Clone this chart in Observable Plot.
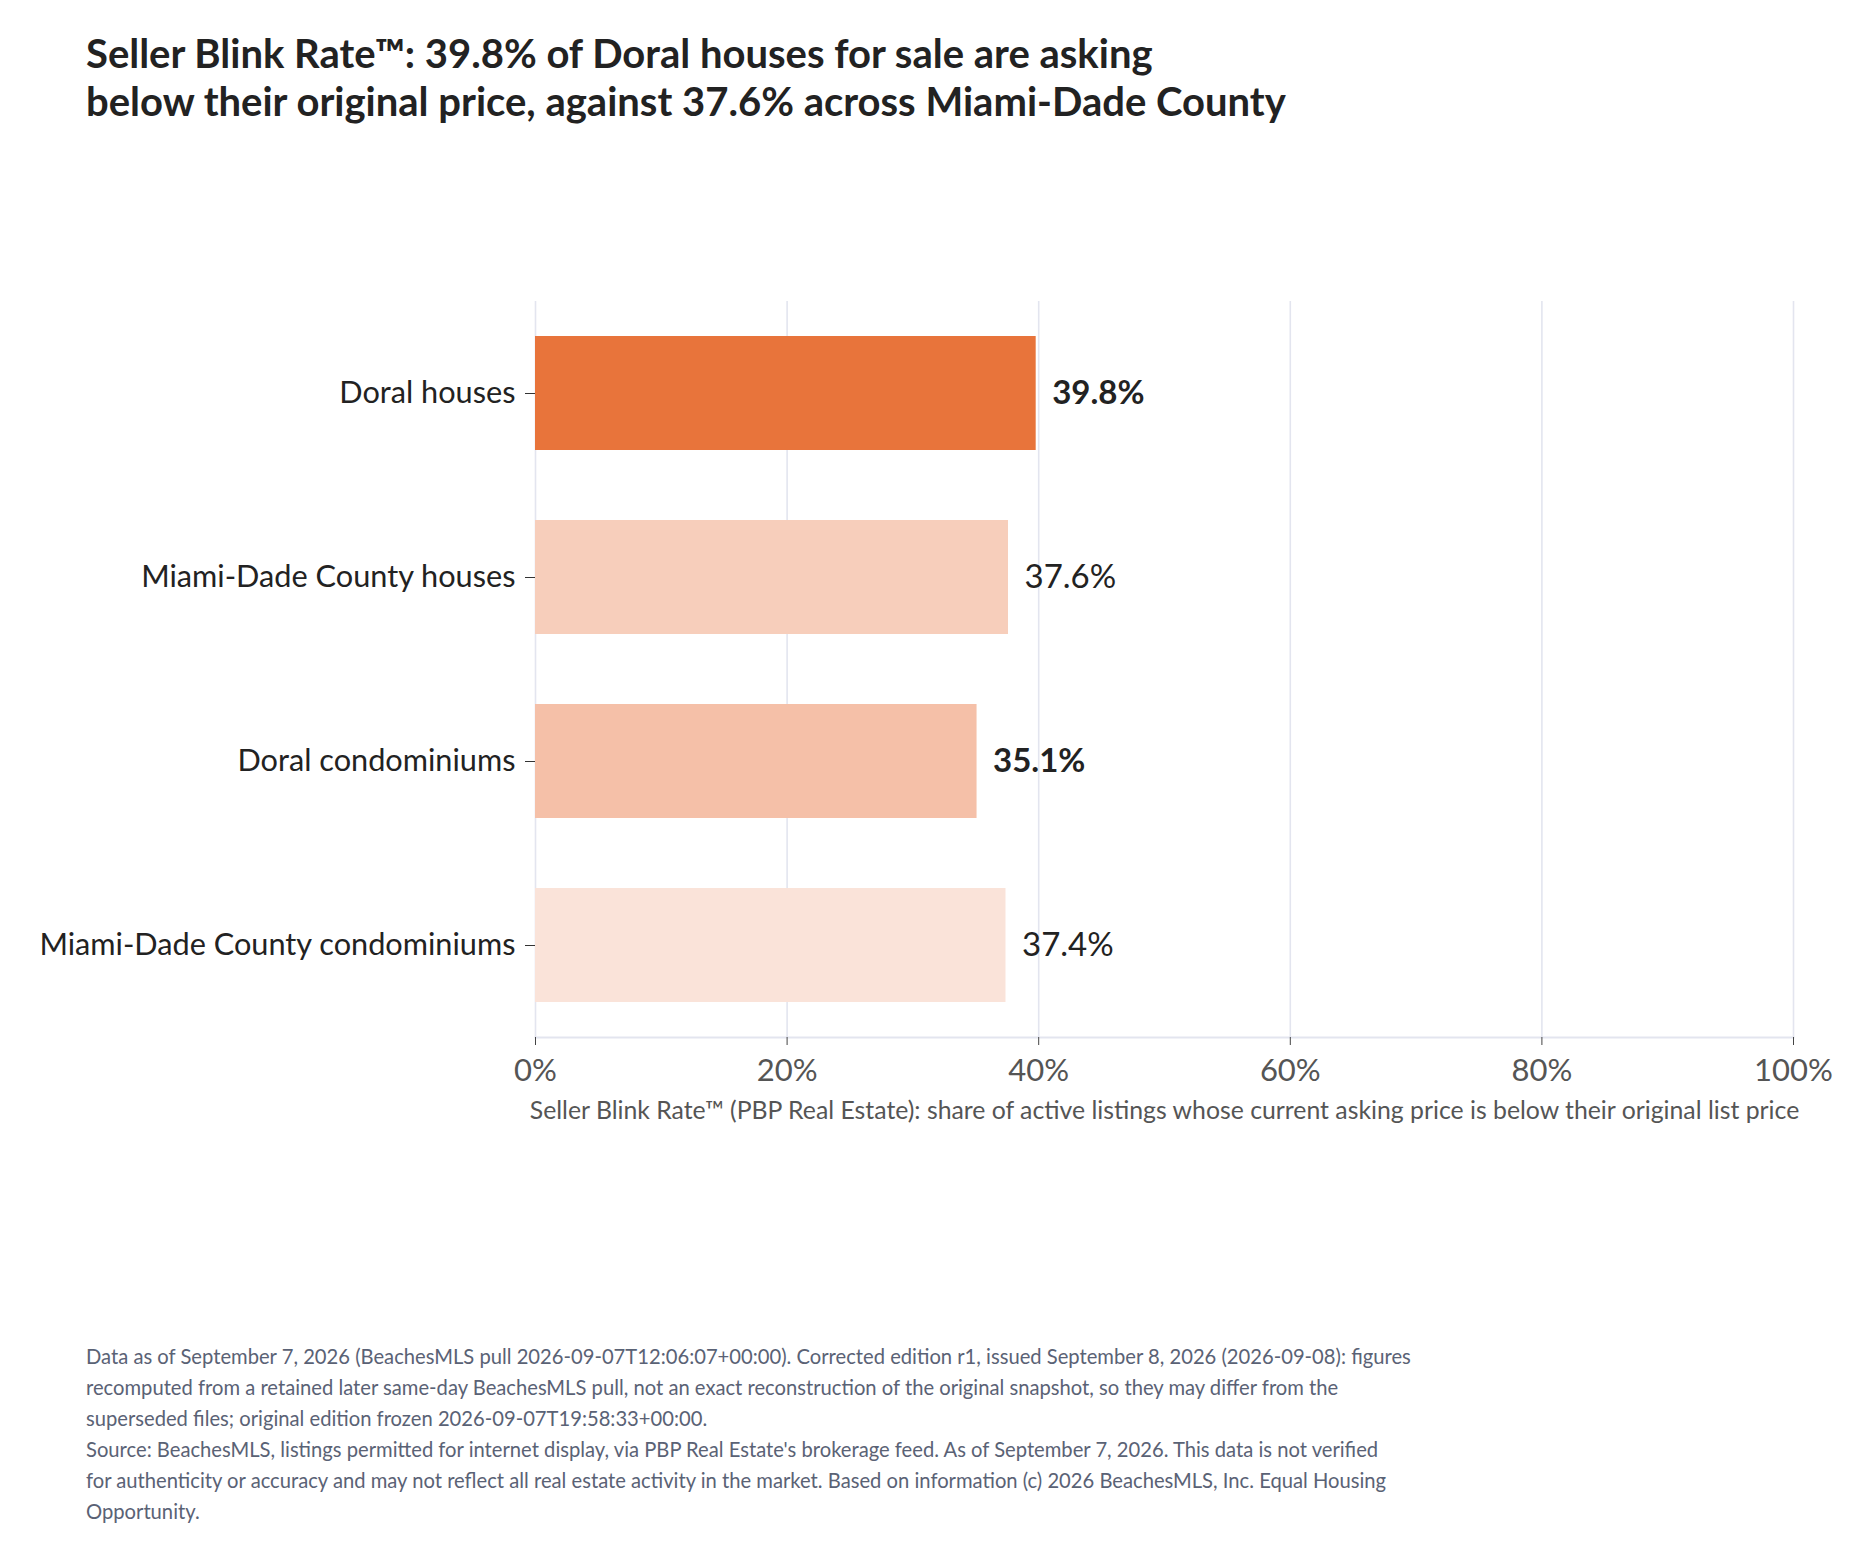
<!DOCTYPE html>
<html>
<head>
<meta charset="utf-8">
<script src="https://cdn.jsdelivr.net/npm/d3@7"></script>
<script src="https://cdn.jsdelivr.net/npm/@observablehq/plot@0.6"></script>
<style>
  html, body { margin: 0; padding: 0; background: #fff; }
  body { width: 1870px; height: 1556px; position: relative; font-family: Lato, "Noto Sans", sans-serif; }
  #title { position: absolute; left: 86px; top: 29px; font-size: 40px; font-weight: 700; line-height: 48px; color: #222; white-space: nowrap; }
  #chart { position: absolute; left: 0; top: 150px; }
  #foot { position: absolute; left: 86px; top: 1341px; font-size: 20.2px; line-height: 31px; color: #5a6275; white-space: nowrap; }
  #foot p { margin: 0; }
</style>
</head>
<body>
<div id="title">Seller Blink Rate™: 39.8% of Doral houses for sale are asking<br>below their original price, against 37.6% across Miami-Dade County</div>
<div id="chart"></div>
<div id="foot">
  <p>Data as of September 7, 2026 (BeachesMLS pull 2026-09-07T12:06:07+00:00). Corrected edition r1, issued September 8, 2026 (2026-09-08): figures<br>recomputed from a retained later same-day BeachesMLS pull, not an exact reconstruction of the original snapshot, so they may differ from the<br>superseded files; original edition frozen 2026-09-07T19:58:33+00:00.</p>
  <p>Source: BeachesMLS, listings permitted for internet display, via PBP Real Estate's brokerage feed. As of September 7, 2026. This data is not verified<br>for authenticity or accuracy and may not reflect all real estate activity in the market. Based on information (c) 2026 BeachesMLS, Inc. Equal Housing<br>Opportunity.</p>
</div>
<script>
// ---- data ----
const categories = ["Doral houses", "Miami-Dade County houses", "Doral condominiums", "Miami-Dade County condominiums"];
const values = [39.8, 37.6, 35.1, 37.4];
const xTicks = [0, 20, 40, 60, 80, 100];
const xAxisLabel = "Seller Blink Rate™ (PBP Real Estate): share of active listings whose current asking price is below their original list price";

const rows = categories.map((name, i) => ({name, value: values[i]}));
const isDoral = d => d.name.startsWith("Doral");

const chart = Plot.plot({
  width: 1870,
  height: 1000,
  marginTop: 151,
  marginBottom: 113,
  marginLeft: 535,
  marginRight: 77,
  style: {fontFamily: "Lato, 'Noto Sans', sans-serif", fontSize: "31px", background: "#fff", color: "#222"},
  x: {domain: [0, 100], label: null},
  y: {domain: categories, paddingInner: 0.383, paddingOuter: 0.184, label: null},
  color: {type: "ordinal", domain: categories, range: ["#e8743b", "#f7cebb", "#f5c0a8", "#fae3d9"]},
  marks: [
    Plot.gridX(xTicks, {stroke: "#e3e5ef", strokeOpacity: 1, strokeWidth: 1.6}),
    Plot.frame({anchor: "bottom", stroke: "#e3e5ef", strokeWidth: 2}),
    Plot.barX(rows, {x: "value", y: "name", fill: "name"}),
    Plot.text(rows.filter(isDoral), {x: "value", y: "name", text: d => d.value.toFixed(1) + "%", dx: 16, textAnchor: "start", fontSize: 33, fontWeight: 700, fill: "#222"}),
    Plot.text(rows.filter(d => !isDoral(d)), {x: "value", y: "name", text: d => d.value.toFixed(1) + "%", dx: 16, textAnchor: "start", fontSize: 33, fontWeight: 400, fill: "#222"}),
    Plot.axisX({ticks: xTicks, tickFormat: d => d + "%", fontSize: 31, tickSize: 8, tickPadding: 13, fill: "#555", stroke: "#444", label: null}),
    Plot.axisY({fontSize: 30.7, tickSize: 10, tickPadding: 10, fill: "#222", stroke: "#333", label: null}),
    Plot.text([xAxisLabel], {frameAnchor: "bottom", dy: 74, fontSize: 24.8, fill: "#555", lineAnchor: "middle"})
  ]
});
document.getElementById("chart").appendChild(chart);
</script>
</body>
</html>
